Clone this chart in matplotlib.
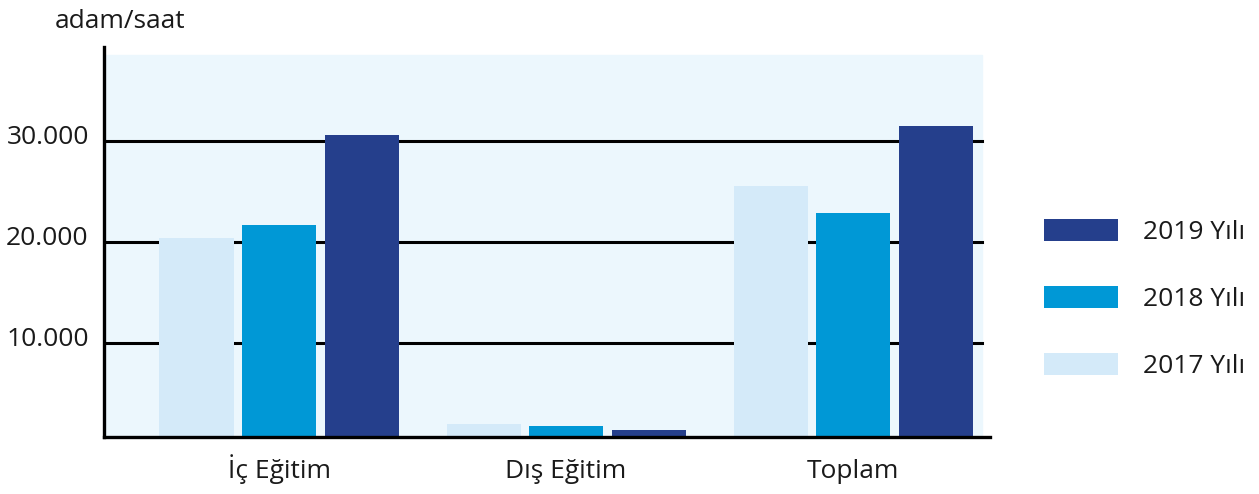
import matplotlib
matplotlib.use("Agg")
import matplotlib.pyplot as plt
import matplotlib.transforms as mtransforms
from matplotlib.patches import Rectangle
import numpy as np

plt.rcParams['font.family'] = ['Open Sans', 'DejaVu Sans']

# data (adam/saat)
categories = ['İç Eğitim', 'Dış Eğitim', 'Toplam']
years = ['2017 Yılı', '2018 Yılı', '2019 Yılı']
values_2017 = [20370, 1950, 25500]
values_2018 = [21650, 1750, 22840]
values_2019 = [30560, 1360, 31450]
yticks = [10000, 20000, 30000]
ytick_labels = ['10.000', '20.000', '30.000']

colors = ['#D4EAF9', '#0098D6', '#253F8C']
bg_color = '#ECF7FD'
text_color = '#1a1a1a'
fs = 19

fig = plt.figure(figsize=(12.59, 4.94), dpi=100)
ax = fig.add_axes([104/1259, 57/494, 886/1259, 390/494])
ax.set_facecolor('white')

# light background panel (a bit shorter than the left spine)
ax.add_patch(Rectangle((0, 0), 0.991, 0.979, transform=ax.transAxes,
                       color=bg_color, zorder=0))

x = np.arange(len(categories))
width = 0.258
step = 0.2875
series = [values_2017, values_2018, values_2019]
bars = []
for i, vals in enumerate(series):
    b = ax.bar(x + (i - 1) * step, vals, width, color=colors[i], label=years[i], zorder=3)
    bars.append(b)

for t in yticks:
    ax.axhline(t, xmin=0, xmax=0.991, color='black', lw=2.2, zorder=2)

ax.set_xlim(-0.6098, 2.477)
ax.set_ylim(663, 39277)

for s in ['top', 'right']:
    ax.spines[s].set_visible(False)
for s in ['left', 'bottom']:
    ax.spines[s].set_linewidth(2.4)
    ax.spines[s].set_color('black')
    ax.spines[s].set_zorder(4)

ax.set_yticks(yticks)
ax.set_yticklabels(ytick_labels, fontsize=fs, color=text_color)
ax.set_xticks(x)
ax.set_xticklabels(categories, fontsize=fs, color=text_color)
ax.tick_params(axis='both', length=0)
ax.tick_params(axis='y', pad=11)
ax.tick_params(axis='x', pad=29.5)
for lab in ax.get_xticklabels():
    lab.set_verticalalignment('baseline')

# lift y tick labels a little above their gridlines
offset = mtransforms.ScaledTranslation(0, 6/100, fig.dpi_scale_trans)
for lab in ax.get_yticklabels():
    lab.set_transform(lab.get_transform() + offset)

fig.text(55/1259, 1 - 28/494, 'adam/saat', fontsize=fs, color=text_color,
         ha='left', va='baseline')

handles = bars[::-1]
labels = years[::-1]
fig.legend(handles, labels, loc='upper left', bbox_to_anchor=(1044/1259, 1 - 219/494),
           frameon=False, fontsize=fs, handlelength=2.8, handleheight=0.91,
           handletextpad=0.95, labelspacing=1.55, borderpad=0, borderaxespad=0,
           labelcolor=text_color)

fig.savefig('out.png', dpi=100)
